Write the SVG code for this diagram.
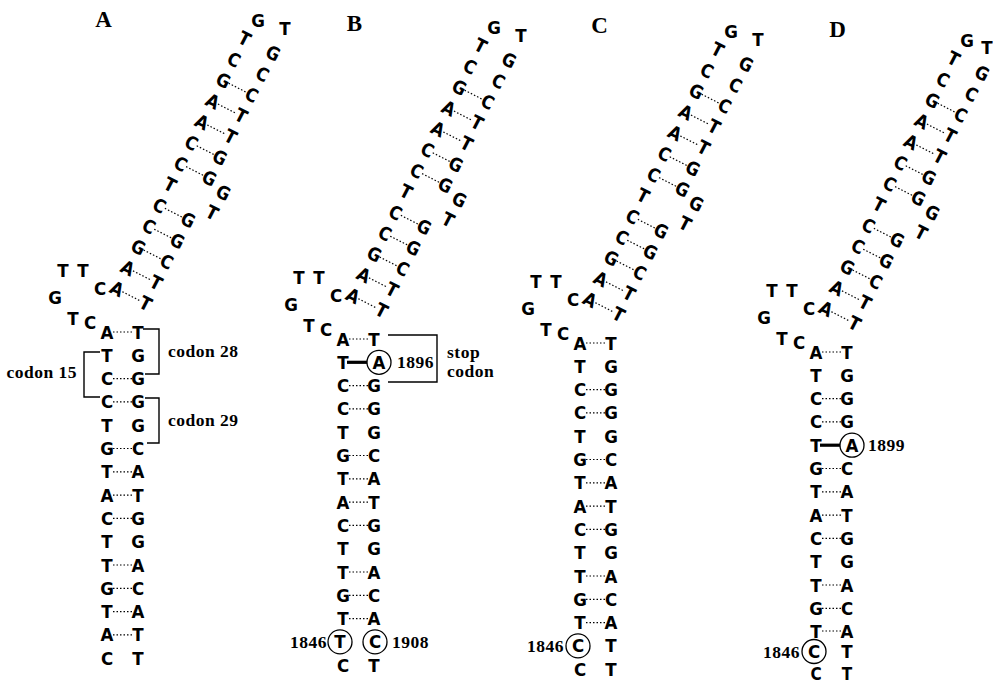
<svg xmlns="http://www.w3.org/2000/svg" width="993" height="684" viewBox="0 0 993 684">
<style>
.n{font-family:"Liberation Sans Narrow","DejaVu Sans Condensed","Liberation Sans",sans-serif;font-weight:bold;font-size:18.5px;text-anchor:middle;fill:#000}
.l{font-family:"Liberation Serif","DejaVu Serif",serif;font-weight:bold;font-size:17.5px;letter-spacing:0.5px;fill:#000}
.pl{font-family:"Liberation Serif","DejaVu Serif",serif;font-weight:bold;font-size:23px;text-anchor:middle;fill:#000}
.d{stroke:#000;stroke-width:1.2;stroke-dasharray:1.5 2;fill:none}
.br{stroke:#000;stroke-width:1.4;fill:none}
.tk{stroke:#000;stroke-width:3.2}
.ci{stroke:#000;stroke-width:1.3;fill:none}
</style>
<rect width="993" height="684" fill="#fff"/>

<g id="labels">
<text class="pl" x="103.5" y="27">A</text>
<text class="pl" x="354.5" y="31">B</text>
<text class="pl" x="599.5" y="33">C</text>
<text class="pl" x="837.5" y="37">D</text>
</g>

<!-- ================= PANEL A ================= -->
<g id="panel-A">
<g id="A-helix" transform="translate(117,289) rotate(27)">
<text class="n" x="0" y="6.5">A</text><text class="n" x="32" y="6.5">T</text>
<text class="n" x="0" y="-16.9">A</text><text class="n" x="32" y="-16.9">T</text>
<text class="n" x="0" y="-40.3">G</text><text class="n" x="32" y="-40.3">C</text>
<text class="n" x="0" y="-63.7">C</text><text class="n" x="32" y="-63.7">G</text>
<text class="n" x="0" y="-87.1">C</text><text class="n" x="32" y="-87.1">G</text>
<text class="n" x="0" y="-110.5">T</text>
<text class="n" x="50" y="-104.5">T</text><text class="n" x="51" y="-127.5">G</text>
<text class="n" x="0" y="-133.9">C</text><text class="n" x="32" y="-133.9">G</text>
<text class="n" x="0" y="-157.3">C</text><text class="n" x="32" y="-157.3">G</text>
<text class="n" x="0" y="-180.7">A</text><text class="n" x="32" y="-180.7">T</text>
<text class="n" x="0" y="-204.1">A</text><text class="n" x="32" y="-204.1">T</text>
<text class="n" x="0" y="-227.5">G</text><text class="n" x="32" y="-227.5">C</text>
<text class="n" x="0" y="-250.9">C</text><text class="n" x="32" y="-250.9">C</text>
<text class="n" x="0" y="-274.3">T</text><text class="n" x="32" y="-274.3">G</text>
<g id="A-helix-pairs">
<line class="d" x1="6" y1="0" x2="26" y2="0"/>
<line class="d" x1="6" y1="-23.4" x2="26" y2="-23.4"/>
<line class="d" x1="6" y1="-46.8" x2="26" y2="-46.8"/>
<line class="d" x1="6" y1="-70.2" x2="26" y2="-70.2"/>
<line class="d" x1="6" y1="-93.6" x2="26" y2="-93.6"/>
<line class="d" x1="6" y1="-140.4" x2="26" y2="-140.4"/>
<line class="d" x1="6" y1="-163.8" x2="26" y2="-163.8"/>
<line class="d" x1="6" y1="-187.2" x2="26" y2="-187.2"/>
<line class="d" x1="6" y1="-210.6" x2="26" y2="-210.6"/>
<line class="d" x1="6" y1="-234" x2="26" y2="-234"/>
</g>
</g>
<g id="A-loops">
<text class="n" x="258" y="26.5">G</text><text class="n" x="285" y="34.5">T</text>
<text class="n" x="63" y="276.5">T</text><text class="n" x="83" y="276.5">T</text>
<text class="n" x="55" y="303.5">G</text><text class="n" x="100" y="294.5">C</text>
<text class="n" x="73" y="324.5">T</text><text class="n" x="90" y="328.5">C</text>
</g>
<g id="A-stem">
<text class="n" x="107" y="338.5">A</text><text class="n" x="138" y="338.5">T</text>
<text class="n" x="107" y="361.8">T</text><text class="n" x="138" y="361.8">G</text>
<text class="n" x="107" y="385.1">C</text><text class="n" x="138" y="385.1">G</text>
<text class="n" x="107" y="408.4">C</text><text class="n" x="138" y="408.4">G</text>
<text class="n" x="107" y="431.7">T</text><text class="n" x="138" y="431.7">G</text>
<text class="n" x="107" y="455">G</text><text class="n" x="138" y="455">C</text>
<text class="n" x="107" y="478.3">T</text><text class="n" x="138" y="478.3">A</text>
<text class="n" x="107" y="501.6">A</text><text class="n" x="138" y="501.6">T</text>
<text class="n" x="107" y="524.9">C</text><text class="n" x="138" y="524.9">G</text>
<text class="n" x="107" y="548.2">T</text><text class="n" x="138" y="548.2">G</text>
<text class="n" x="107" y="571.5">T</text><text class="n" x="138" y="571.5">A</text>
<text class="n" x="107" y="594.8">G</text><text class="n" x="138" y="594.8">C</text>
<text class="n" x="107" y="618.1">T</text><text class="n" x="138" y="618.1">A</text>
<text class="n" x="107" y="641.4">A</text><text class="n" x="138" y="641.4">T</text>
<text class="n" x="107" y="664.7">C</text><text class="n" x="138" y="664.7">T</text>
</g>
<g id="A-stem-pairs">
<line class="d" x1="113" y1="332" x2="132" y2="332"/>
<line class="d" x1="113" y1="378.6" x2="132" y2="378.6"/>
<line class="d" x1="113" y1="401.9" x2="132" y2="401.9"/>
<line class="d" x1="113" y1="448.5" x2="132" y2="448.5"/>
<line class="d" x1="113" y1="471.8" x2="132" y2="471.8"/>
<line class="d" x1="113" y1="495.1" x2="132" y2="495.1"/>
<line class="d" x1="113" y1="518.4" x2="132" y2="518.4"/>
<line class="d" x1="113" y1="565" x2="132" y2="565"/>
<line class="d" x1="113" y1="588.3" x2="132" y2="588.3"/>
<line class="d" x1="113" y1="611.6" x2="132" y2="611.6"/>
<line class="d" x1="113" y1="634.9" x2="132" y2="634.9"/>
</g>
<g id="A-codons">
<polyline class="br" points="143,329 159,329 159,374 145,374"/>
<polyline class="br" points="100,352 84,352 84,397 100,397"/>
<polyline class="br" points="145,398 159,398 159,443 147,443"/>
<text class="l" x="168" y="357">codon 28</text>
<text class="l" x="168" y="426">codon 29</text>
<text class="l" x="77" y="378" text-anchor="end">codon 15</text>
</g>
</g>

<!-- ================= PANEL B ================= -->
<g id="panel-B" transform="translate(236,7)">
<g id="B-helix" transform="translate(117,289) rotate(27)">
<text class="n" x="0" y="6.5">A</text><text class="n" x="32" y="6.5">T</text>
<text class="n" x="0" y="-16.9">A</text><text class="n" x="32" y="-16.9">T</text>
<text class="n" x="0" y="-40.3">G</text><text class="n" x="32" y="-40.3">C</text>
<text class="n" x="0" y="-63.7">C</text><text class="n" x="32" y="-63.7">G</text>
<text class="n" x="0" y="-87.1">C</text><text class="n" x="32" y="-87.1">G</text>
<text class="n" x="0" y="-110.5">T</text>
<text class="n" x="50" y="-104.5">T</text><text class="n" x="51" y="-127.5">G</text>
<text class="n" x="0" y="-133.9">C</text><text class="n" x="32" y="-133.9">G</text>
<text class="n" x="0" y="-157.3">C</text><text class="n" x="32" y="-157.3">G</text>
<text class="n" x="0" y="-180.7">A</text><text class="n" x="32" y="-180.7">T</text>
<text class="n" x="0" y="-204.1">A</text><text class="n" x="32" y="-204.1">T</text>
<text class="n" x="0" y="-227.5">G</text><text class="n" x="32" y="-227.5">C</text>
<text class="n" x="0" y="-250.9">C</text><text class="n" x="32" y="-250.9">C</text>
<text class="n" x="0" y="-274.3">T</text><text class="n" x="32" y="-274.3">G</text>
<g id="B-helix-pairs">
<line class="d" x1="6" y1="0" x2="26" y2="0"/>
<line class="d" x1="6" y1="-23.4" x2="26" y2="-23.4"/>
<line class="d" x1="6" y1="-46.8" x2="26" y2="-46.8"/>
<line class="d" x1="6" y1="-70.2" x2="26" y2="-70.2"/>
<line class="d" x1="6" y1="-93.6" x2="26" y2="-93.6"/>
<line class="d" x1="6" y1="-140.4" x2="26" y2="-140.4"/>
<line class="d" x1="6" y1="-163.8" x2="26" y2="-163.8"/>
<line class="d" x1="6" y1="-187.2" x2="26" y2="-187.2"/>
<line class="d" x1="6" y1="-210.6" x2="26" y2="-210.6"/>
<line class="d" x1="6" y1="-234" x2="26" y2="-234"/>
</g>
</g>
<g id="B-loops">
<text class="n" x="258" y="26.5">G</text><text class="n" x="285" y="34.5">T</text>
<text class="n" x="63" y="276.5">T</text><text class="n" x="83" y="276.5">T</text>
<text class="n" x="55" y="303.5">G</text><text class="n" x="100" y="294.5">C</text>
<text class="n" x="73" y="324.5">T</text><text class="n" x="90" y="328.5">C</text>
</g>
<g id="B-stem">
<text class="n" x="107" y="338.5">A</text><text class="n" x="138" y="338.5">T</text>
<text class="n" x="107" y="361.8">T</text><text class="n" x="143" y="361.8">A</text>
<text class="n" x="107" y="385.1">C</text><text class="n" x="138" y="385.1">G</text>
<text class="n" x="107" y="408.4">C</text><text class="n" x="138" y="408.4">G</text>
<text class="n" x="107" y="431.7">T</text><text class="n" x="138" y="431.7">G</text>
<text class="n" x="107" y="455">G</text><text class="n" x="138" y="455">C</text>
<text class="n" x="107" y="478.3">T</text><text class="n" x="138" y="478.3">A</text>
<text class="n" x="107" y="501.6">A</text><text class="n" x="138" y="501.6">T</text>
<text class="n" x="107" y="524.9">C</text><text class="n" x="138" y="524.9">G</text>
<text class="n" x="107" y="548.2">T</text><text class="n" x="138" y="548.2">G</text>
<text class="n" x="107" y="571.5">T</text><text class="n" x="138" y="571.5">A</text>
<text class="n" x="107" y="594.8">G</text><text class="n" x="138" y="594.8">C</text>
<text class="n" x="107" y="618.1">T</text><text class="n" x="138" y="618.1">A</text>
<text class="n" x="104" y="641.4">T</text><text class="n" x="139" y="641.4">C</text>
<text class="n" x="107" y="664.7">C</text><text class="n" x="138" y="664.7">T</text>
</g>
<g id="B-stem-pairs">
<line class="d" x1="113" y1="332" x2="132" y2="332"/>
<line class="d" x1="113" y1="378.6" x2="132" y2="378.6"/>
<line class="d" x1="113" y1="401.9" x2="132" y2="401.9"/>
<line class="d" x1="113" y1="448.5" x2="132" y2="448.5"/>
<line class="d" x1="113" y1="471.8" x2="132" y2="471.8"/>
<line class="d" x1="113" y1="495.1" x2="132" y2="495.1"/>
<line class="d" x1="113" y1="518.4" x2="132" y2="518.4"/>
<line class="d" x1="113" y1="565" x2="132" y2="565"/>
<line class="d" x1="113" y1="588.3" x2="132" y2="588.3"/>
<line class="d" x1="113" y1="611.6" x2="132" y2="611.6"/>
<line class="tk" x1="111" y1="355.3" x2="131" y2="355.3"/>
</g>
<g id="B-marks">
<circle class="ci" cx="143" cy="355.3" r="12"/>
<text class="l" x="161" y="361">1896</text>
<polyline class="br" points="152,328 201,328 201,375 152,375"/>
<text class="l" x="211" y="351">stop</text>
<text class="l" x="211" y="370">codon</text>
<circle class="ci" cx="104" cy="634.9" r="12"/>
<circle class="ci" cx="139" cy="634.9" r="12"/>
<text class="l" x="91" y="641" text-anchor="end">1846</text>
<text class="l" x="156" y="641">1908</text>
</g>
</g>

<!-- ================= PANEL C ================= -->
<g id="panel-C" transform="translate(473,11)">
<g id="C-helix" transform="translate(117,289) rotate(27)">
<text class="n" x="0" y="6.5">A</text><text class="n" x="32" y="6.5">T</text>
<text class="n" x="0" y="-16.9">A</text><text class="n" x="32" y="-16.9">T</text>
<text class="n" x="0" y="-40.3">G</text><text class="n" x="32" y="-40.3">C</text>
<text class="n" x="0" y="-63.7">C</text><text class="n" x="32" y="-63.7">G</text>
<text class="n" x="0" y="-87.1">C</text><text class="n" x="32" y="-87.1">G</text>
<text class="n" x="0" y="-110.5">T</text>
<text class="n" x="50" y="-104.5">T</text><text class="n" x="51" y="-127.5">G</text>
<text class="n" x="0" y="-133.9">C</text><text class="n" x="32" y="-133.9">G</text>
<text class="n" x="0" y="-157.3">C</text><text class="n" x="32" y="-157.3">G</text>
<text class="n" x="0" y="-180.7">A</text><text class="n" x="32" y="-180.7">T</text>
<text class="n" x="0" y="-204.1">A</text><text class="n" x="32" y="-204.1">T</text>
<text class="n" x="0" y="-227.5">G</text><text class="n" x="32" y="-227.5">C</text>
<text class="n" x="0" y="-250.9">C</text><text class="n" x="32" y="-250.9">C</text>
<text class="n" x="0" y="-274.3">T</text><text class="n" x="32" y="-274.3">G</text>
<g id="C-helix-pairs">
<line class="d" x1="6" y1="0" x2="26" y2="0"/>
<line class="d" x1="6" y1="-23.4" x2="26" y2="-23.4"/>
<line class="d" x1="6" y1="-46.8" x2="26" y2="-46.8"/>
<line class="d" x1="6" y1="-70.2" x2="26" y2="-70.2"/>
<line class="d" x1="6" y1="-93.6" x2="26" y2="-93.6"/>
<line class="d" x1="6" y1="-140.4" x2="26" y2="-140.4"/>
<line class="d" x1="6" y1="-163.8" x2="26" y2="-163.8"/>
<line class="d" x1="6" y1="-187.2" x2="26" y2="-187.2"/>
<line class="d" x1="6" y1="-210.6" x2="26" y2="-210.6"/>
<line class="d" x1="6" y1="-234" x2="26" y2="-234"/>
</g>
</g>
<g id="C-loops">
<text class="n" x="258" y="26.5">G</text><text class="n" x="285" y="34.5">T</text>
<text class="n" x="63" y="276.5">T</text><text class="n" x="83" y="276.5">T</text>
<text class="n" x="55" y="303.5">G</text><text class="n" x="100" y="294.5">C</text>
<text class="n" x="73" y="324.5">T</text><text class="n" x="90" y="328.5">C</text>
</g>
<g id="C-stem">
<text class="n" x="107" y="338.5">A</text><text class="n" x="138" y="338.5">T</text>
<text class="n" x="107" y="361.8">T</text><text class="n" x="138" y="361.8">G</text>
<text class="n" x="107" y="385.1">C</text><text class="n" x="138" y="385.1">G</text>
<text class="n" x="107" y="408.4">C</text><text class="n" x="138" y="408.4">G</text>
<text class="n" x="107" y="431.7">T</text><text class="n" x="138" y="431.7">G</text>
<text class="n" x="107" y="455">G</text><text class="n" x="138" y="455">C</text>
<text class="n" x="107" y="478.3">T</text><text class="n" x="138" y="478.3">A</text>
<text class="n" x="107" y="501.6">A</text><text class="n" x="138" y="501.6">T</text>
<text class="n" x="107" y="524.9">C</text><text class="n" x="138" y="524.9">G</text>
<text class="n" x="107" y="548.2">T</text><text class="n" x="138" y="548.2">G</text>
<text class="n" x="107" y="571.5">T</text><text class="n" x="138" y="571.5">A</text>
<text class="n" x="107" y="594.8">G</text><text class="n" x="138" y="594.8">C</text>
<text class="n" x="107" y="618.1">T</text><text class="n" x="138" y="618.1">A</text>
<text class="n" x="105" y="641.4">C</text><text class="n" x="138" y="641.4">T</text>
<text class="n" x="107" y="664.7">C</text><text class="n" x="138" y="664.7">T</text>
</g>
<g id="C-stem-pairs">
<line class="d" x1="113" y1="332" x2="132" y2="332"/>
<line class="d" x1="113" y1="378.6" x2="132" y2="378.6"/>
<line class="d" x1="113" y1="401.9" x2="132" y2="401.9"/>
<line class="d" x1="113" y1="448.5" x2="132" y2="448.5"/>
<line class="d" x1="113" y1="471.8" x2="132" y2="471.8"/>
<line class="d" x1="113" y1="495.1" x2="132" y2="495.1"/>
<line class="d" x1="113" y1="518.4" x2="132" y2="518.4"/>
<line class="d" x1="113" y1="565" x2="132" y2="565"/>
<line class="d" x1="113" y1="588.3" x2="132" y2="588.3"/>
<line class="d" x1="113" y1="611.6" x2="132" y2="611.6"/>
</g>
<g id="C-marks">
<circle class="ci" cx="105" cy="634.9" r="12"/>
<text class="l" x="91" y="641" text-anchor="end">1846</text>
</g>
</g>

<!-- ================= PANEL D ================= -->
<g id="panel-D" transform="translate(709,20)">
<g id="D-helix" transform="translate(117,289) rotate(27)">
<text class="n" x="0" y="6.5">A</text><text class="n" x="32" y="6.5">T</text>
<text class="n" x="0" y="-16.9">A</text><text class="n" x="32" y="-16.9">T</text>
<text class="n" x="0" y="-40.3">G</text><text class="n" x="32" y="-40.3">C</text>
<text class="n" x="0" y="-63.7">C</text><text class="n" x="32" y="-63.7">G</text>
<text class="n" x="0" y="-87.1">C</text><text class="n" x="32" y="-87.1">G</text>
<text class="n" x="0" y="-110.5">T</text>
<text class="n" x="50" y="-104.5">T</text><text class="n" x="51" y="-127.5">G</text>
<text class="n" x="0" y="-133.9">C</text><text class="n" x="32" y="-133.9">G</text>
<text class="n" x="0" y="-157.3">C</text><text class="n" x="32" y="-157.3">G</text>
<text class="n" x="0" y="-180.7">A</text><text class="n" x="32" y="-180.7">T</text>
<text class="n" x="0" y="-204.1">A</text><text class="n" x="32" y="-204.1">T</text>
<text class="n" x="0" y="-227.5">G</text><text class="n" x="32" y="-227.5">C</text>
<text class="n" x="0" y="-250.9">C</text><text class="n" x="32" y="-250.9">C</text>
<text class="n" x="0" y="-274.3">T</text><text class="n" x="32" y="-274.3">G</text>
<g id="D-helix-pairs">
<line class="d" x1="6" y1="0" x2="26" y2="0"/>
<line class="d" x1="6" y1="-23.4" x2="26" y2="-23.4"/>
<line class="d" x1="6" y1="-46.8" x2="26" y2="-46.8"/>
<line class="d" x1="6" y1="-70.2" x2="26" y2="-70.2"/>
<line class="d" x1="6" y1="-93.6" x2="26" y2="-93.6"/>
<line class="d" x1="6" y1="-140.4" x2="26" y2="-140.4"/>
<line class="d" x1="6" y1="-163.8" x2="26" y2="-163.8"/>
<line class="d" x1="6" y1="-187.2" x2="26" y2="-187.2"/>
<line class="d" x1="6" y1="-210.6" x2="26" y2="-210.6"/>
<line class="d" x1="6" y1="-234" x2="26" y2="-234"/>
</g>
</g>
<g id="D-loops">
<text class="n" x="258" y="26.5">G</text><text class="n" x="278" y="33.5">T</text>
<text class="n" x="63" y="276.5">T</text><text class="n" x="83" y="276.5">T</text>
<text class="n" x="55" y="303.5">G</text><text class="n" x="100" y="294.5">C</text>
<text class="n" x="73" y="324.5">T</text><text class="n" x="90" y="328.5">C</text>
</g>
<g id="D-stem">
<text class="n" x="107" y="338.5">A</text><text class="n" x="138" y="338.5">T</text>
<text class="n" x="107" y="361.8">T</text><text class="n" x="138" y="361.8">G</text>
<text class="n" x="107" y="385.1">C</text><text class="n" x="138" y="385.1">G</text>
<text class="n" x="107" y="408.4">C</text><text class="n" x="138" y="408.4">G</text>
<text class="n" x="107" y="431.7">T</text><text class="n" x="143" y="431.7">A</text>
<text class="n" x="107" y="455">G</text><text class="n" x="138" y="455">C</text>
<text class="n" x="107" y="478.3">T</text><text class="n" x="138" y="478.3">A</text>
<text class="n" x="107" y="501.6">A</text><text class="n" x="138" y="501.6">T</text>
<text class="n" x="107" y="524.9">C</text><text class="n" x="138" y="524.9">G</text>
<text class="n" x="107" y="548.2">T</text><text class="n" x="138" y="548.2">G</text>
<text class="n" x="107" y="571.5">T</text><text class="n" x="138" y="571.5">A</text>
<text class="n" x="107" y="594.8">G</text><text class="n" x="138" y="594.8">C</text>
<text class="n" x="107" y="617.5">T</text><text class="n" x="138" y="617.5">A</text>
<text class="n" x="105" y="638">C</text><text class="n" x="138" y="638">T</text>
<text class="n" x="107" y="659.5" style="font-size:17px">C</text><text class="n" x="138" y="659.5" style="font-size:17px">T</text>
</g>
<g id="D-stem-pairs">
<line class="d" x1="113" y1="332" x2="132" y2="332"/>
<line class="d" x1="113" y1="378.6" x2="132" y2="378.6"/>
<line class="d" x1="113" y1="401.9" x2="132" y2="401.9"/>
<line class="d" x1="113" y1="448.5" x2="132" y2="448.5"/>
<line class="d" x1="113" y1="471.8" x2="132" y2="471.8"/>
<line class="d" x1="113" y1="495.1" x2="132" y2="495.1"/>
<line class="d" x1="113" y1="518.4" x2="132" y2="518.4"/>
<line class="d" x1="113" y1="565" x2="132" y2="565"/>
<line class="d" x1="113" y1="588.3" x2="132" y2="588.3"/>
<line class="d" x1="113" y1="611" x2="132" y2="611"/>
<line class="tk" x1="111" y1="425.2" x2="131" y2="425.2"/>
</g>
<g id="D-marks">
<circle class="ci" cx="143" cy="425.2" r="12"/>
<text class="l" x="159" y="431">1899</text>
<circle class="ci" cx="105" cy="631.5" r="12"/>
<text class="l" x="91" y="637.5" text-anchor="end">1846</text>
</g>
</g>
</svg>
